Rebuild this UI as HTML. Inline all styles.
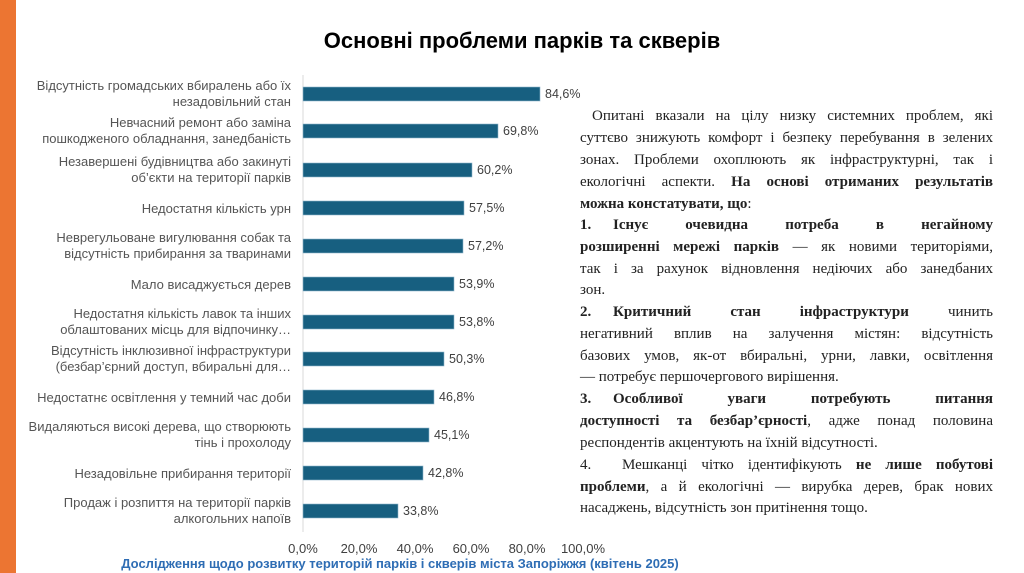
<!DOCTYPE html>
<html><head><meta charset="utf-8"><style>
body{margin:0;width:1024px;height:573px;background:#fff;position:relative;overflow:hidden;font-family:"Liberation Sans",sans-serif}
.strip{position:absolute;left:0;top:0;width:16px;height:573px;background:#ec7532}
h1{position:absolute;left:0;width:1044px;top:28px;margin:0;text-align:center;font-size:22px;font-weight:bold;color:#000}
.tx{position:absolute;left:580px;width:413px;font-family:"Liberation Serif",serif;font-size:15px;color:#222}
.l{position:absolute;left:0;width:413px;white-space:nowrap;text-align:justify;text-align-last:justify;height:20px;line-height:20px}
.n{text-align-last:left}
.num{display:inline-block;width:33px;text-align:left}
.foot{position:absolute;left:0;width:800px;top:556px;text-align:center;font-size:13px;font-weight:bold;color:#2e6db4}
</style></head><body>
<div class="strip"></div>
<h1>Основні проблеми парків та скверів</h1>
<svg style="position:absolute;left:0;top:0" width="640" height="573" font-family="Liberation Sans, sans-serif">
<line x1="303" y1="75" x2="303" y2="532" stroke="#d9d9d9"/>
<g fill="#175f80" stroke="#8fb6cc" stroke-width="0.6">
<rect x="303" y="87" width="237" height="14"/>
<rect x="303" y="124" width="195" height="14"/>
<rect x="303" y="163" width="169" height="14"/>
<rect x="303" y="201" width="161" height="14"/>
<rect x="303" y="239" width="160" height="14"/>
<rect x="303" y="277" width="151" height="14"/>
<rect x="303" y="315" width="151" height="14"/>
<rect x="303" y="352" width="141" height="14"/>
<rect x="303" y="390" width="131" height="14"/>
<rect x="303" y="428" width="126" height="14"/>
<rect x="303" y="466" width="120" height="14"/>
<rect x="303" y="504" width="95" height="14"/>
</g>
<g font-size="12.5" fill="#404040">
<text x="545" y="98">84,6%</text><text x="503" y="135">69,8%</text><text x="477" y="174">60,2%</text><text x="469" y="212">57,5%</text><text x="468" y="250">57,2%</text><text x="459" y="288">53,9%</text><text x="459" y="326">53,8%</text><text x="449" y="363">50,3%</text><text x="439" y="401">46,8%</text><text x="434" y="439">45,1%</text><text x="428" y="477">42,8%</text><text x="403" y="515">33,8%</text>
</g>
<g font-size="13" fill="#404040" text-anchor="middle">
<text x="303" y="553">0,0%</text><text x="359" y="553">20,0%</text><text x="415" y="553">40,0%</text><text x="471" y="553">60,0%</text><text x="527" y="553">80,0%</text><text x="583" y="553">100,0%</text>
</g>
<g font-size="13" fill="#555" text-anchor="end">
<text x="291" y="90">Відсутність громадських вбиралень або їх</text><text x="291" y="106">незадовільний стан</text>
<text x="291" y="127">Невчасний ремонт або заміна</text><text x="291" y="143">пошкодженого обладнання, занедбаність</text>
<text x="291" y="166">Незавершені будівництва або закинуті</text><text x="291" y="182">об’єкти на території парків</text>
<text x="291" y="213">Недостатня кількість урн</text>
<text x="291" y="242">Неврегульоване вигулювання собак та</text><text x="291" y="258">відсутність прибирання за тваринами</text>
<text x="291" y="289">Мало висаджується дерев</text>
<text x="291" y="318">Недостатня кількість лавок та інших</text><text x="291" y="334">облаштованих місць для відпочинку…</text>
<text x="291" y="355">Відсутність інклюзивної інфраструктури</text><text x="291" y="371">(безбар’єрний доступ, вбиральні для…</text>
<text x="291" y="402">Недостатнє освітлення у темний час доби</text>
<text x="291" y="431">Видаляються високі дерева, що створюють</text><text x="291" y="447">тінь і прохолоду</text>
<text x="291" y="478">Незадовільне прибирання території</text>
<text x="291" y="507">Продаж і розпиття на території парків</text><text x="291" y="523">алкогольних напоїв</text>
</g>
</svg>
<div class="tx" style="top:0">
<div class="l" style="top:106px;left:12px;width:401px">Опитані вказали на цілу низку системних проблем, які</div>
<div class="l" style="top:128px">суттєво знижують комфорт і безпеку перебування в зелених</div>
<div class="l" style="top:150px">зонах. Проблеми охоплюють як інфраструктурні, так і</div>
<div class="l" style="top:172px">екологічні аспекти. <b>На основі отриманих результатів</b></div>
<div class="l n" style="top:194px"><b>можна констатувати, що</b>:</div>
<div class="l" style="top:215px"><b><span class="num">1.</span>Існує очевидна потреба в негайному</b></div>
<div class="l" style="top:237px"><b>розширенні мережі парків</b> — як новими територіями,</div>
<div class="l" style="top:259px">так і за рахунок відновлення недіючих або занедбаних</div>
<div class="l n" style="top:280px">зон.</div>
<div class="l" style="top:302px"><b><span class="num">2.</span>Критичний стан інфраструктури</b> чинить</div>
<div class="l" style="top:324px">негативний вплив на залучення містян: відсутність</div>
<div class="l" style="top:346px">базових умов, як-от вбиральні, урни, лавки, освітлення</div>
<div class="l n" style="top:367px">— потребує першочергового вирішення.</div>
<div class="l" style="top:389px"><b><span class="num">3.</span>Особливої уваги потребують питання</b></div>
<div class="l" style="top:411px"><b>доступності та безбар’єрності</b>, адже понад половина</div>
<div class="l n" style="top:433px">респондентів акцентують на їхній відсутності.</div>
<div class="l" style="top:455px"><span class="num" style="width:42px">4.</span>Мешканці чітко ідентифікують <b>не лише побутові</b></div>
<div class="l" style="top:477px"><b>проблеми</b>, а й екологічні — вирубка дерев, брак нових</div>
<div class="l n" style="top:498px">насаджень, відсутність зон притінення тощо.</div>
</div>
<div class="foot">Дослідження щодо розвитку територій парків і скверів міста Запоріжжя (квітень 2025)</div>
</body></html>
